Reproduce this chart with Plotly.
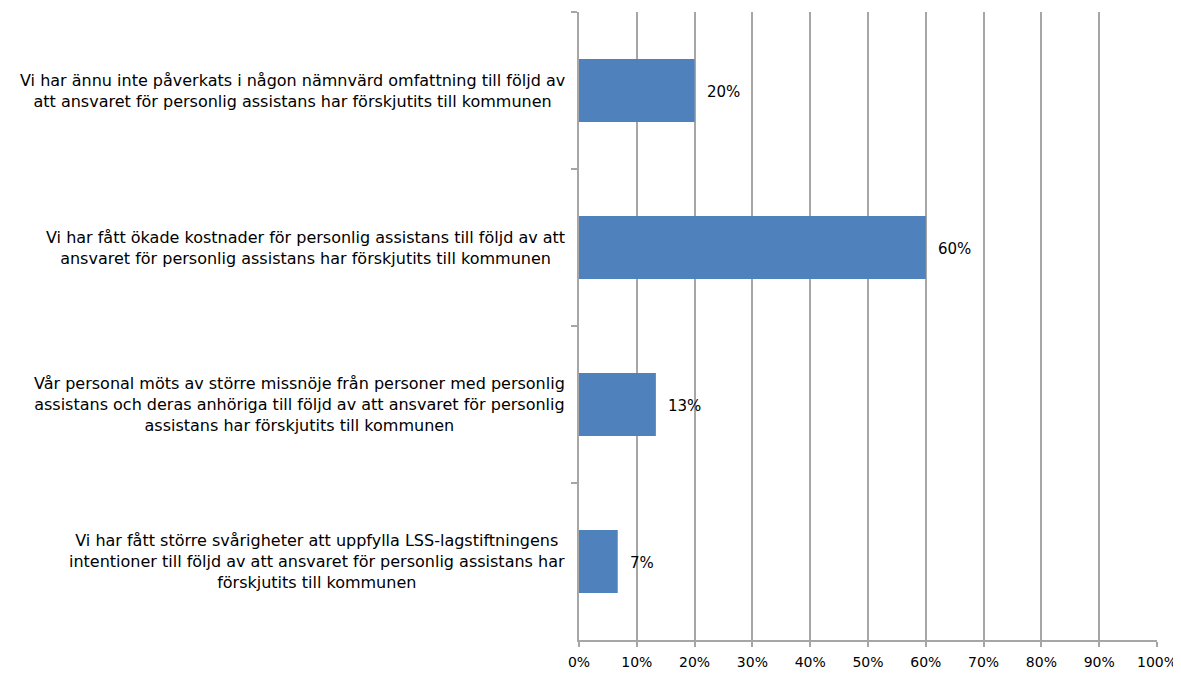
import plotly.graph_objects as go

categories = [
    "Vi har ännu inte påverkats i någon nämnvärd omfattning till följd av<br>att ansvaret för personlig assistans har förskjutits till kommunen",
    "Vi har fått ökade kostnader för personlig assistans till följd av att<br>ansvaret för personlig assistans har förskjutits till kommunen",
    "Vår personal möts av större missnöje från personer med personlig<br>assistans och deras anhöriga till följd av att ansvaret för personlig<br>assistans har förskjutits till kommunen",
    "Vi har fått större svårigheter att uppfylla LSS-lagstiftningens<br>intentioner till följd av att ansvaret för personlig assistans har<br>förskjutits till kommunen",
]
keys = ["c1", "c2", "c3", "c4"]
values = [20.0, 60.0, 13.3, 6.7]
value_labels = ["20%", "60%", "13%", "7%"]
x_ticks = list(range(0, 101, 10))
x_tick_labels = [f"{t}%" for t in x_ticks]

FONT = "DejaVu Sans"
GRID = "#A6A6A6"

fig = go.Figure(go.Bar(
    y=keys, x=values, orientation="h",
    marker=dict(color="#4F81BD", line=dict(width=0)),
    hoverinfo="skip",
))

for k, v, lab in zip(keys, values, value_labels):
    fig.add_annotation(x=v, y=k, xref="x", yref="y", text=lab, showarrow=False,
                       xanchor="left", xshift=10, yshift=-1,
                       font=dict(family=FONT, size=15, color="#000"))

for k, c in zip(keys, categories):
    fig.add_annotation(x=0, y=k, xref="paper", yref="y", text=c, showarrow=False,
                       xanchor="right", align="center", xshift=-12,
                       font=dict(family=FONT, size=16, color="#000"))

fig.update_layout(
    width=1173, height=667,
    margin=dict(l=571, r=21, t=4, b=35),
    paper_bgcolor="white", plot_bgcolor="white",
    bargap=0.6, showlegend=False,
    font=dict(family=FONT, size=13, color="#000"),
)
fig.update_xaxes(
    range=[0, 100], tickvals=x_ticks, ticktext=x_tick_labels,
    showgrid=True, gridcolor=GRID, gridwidth=1.5,
    showline=True, linecolor=GRID, linewidth=1.5,
    ticks="outside", ticklen=5, tickcolor=GRID, tickwidth=1.5,
    ticklabelstandoff=3,
    zeroline=False, tickfont=dict(family=FONT, size=14, color="#000"),
)
fig.update_yaxes(
    categoryorder="array", categoryarray=keys, autorange="reversed",
    showticklabels=False, tickson="boundaries",
    ticks="outside", ticklen=6, tickcolor=GRID, tickwidth=1.5,
    showline=True, linecolor=GRID, linewidth=1.5, showgrid=False, zeroline=False,
)

fig.write_html("out.html")
